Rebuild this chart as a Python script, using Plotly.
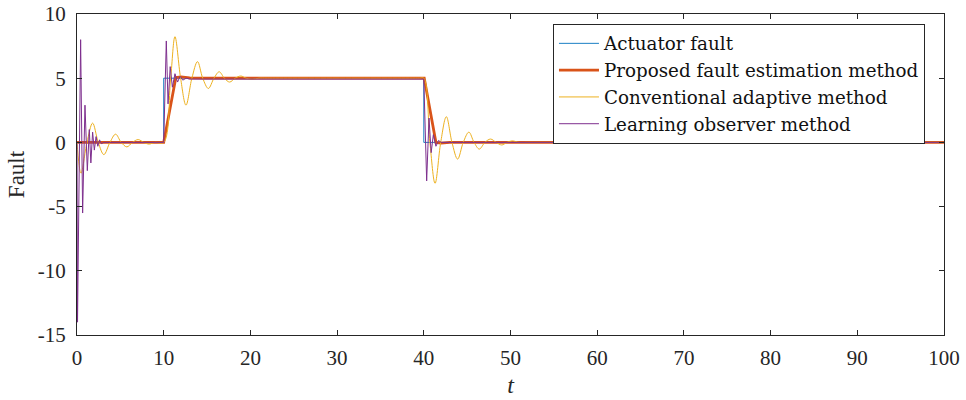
import plotly.graph_objects as go

# ---------------- data ----------------
actuator_t = [0, 10, 10, 40, 40, 100]
actuator_v = [0, 0, 5, 5, 0, 0]

proposed_t = [0, 10.0, 11.4, 12.0, 13.0, 15.0, 40.05, 41.4, 42.0, 43.0, 100]
proposed_v = [0, 0, 5.05, 5.1, 5.02, 5.0, 5.0, 0.0, -0.05, 0.0, 0]

conventional_t = [0, 0.46, 1.15, 1.8, 2.45, 3.1, 3.8, 4.45, 5.1, 5.75, 6.4, 7.05, 7.7, 8.3,
                  9.0, 10.0, 10.8, 11.3, 11.95, 12.57, 13.25, 13.9, 14.5, 15.15, 15.8, 16.4,
                  17.0, 17.6, 18.25, 18.9, 19.5, 20.2, 21.0, 22.0, 39.5, 40.0, 40.7, 41.3,
                  41.95, 42.6, 43.25, 43.9, 44.55, 45.2, 45.8, 46.4, 47.05, 47.7, 48.35,
                  49.0, 49.6, 50.2, 51.0, 52.0, 100]
conventional_v = [0, -2.4, 0, 1.5, 0, -0.95, 0, 0.64, 0, -0.35, 0, 0.22, 0, -0.13,
                  0, 0, 5, 8.23, 5, 2.9, 5, 6.29, 5, 4.2, 5, 5.5,
                  5, 4.7, 5, 5.17, 5, 4.92, 5, 5, 5, 5, 0, -3.19,
                  0, 2.0, 0, -1.3, 0, 0.8, 0, -0.52, 0, 0.26, 0,
                  -0.2, 0, 0.12, 0, 0, 0]

learning_t = [0, 0.06, 0.42, 0.65, 0.92, 1.19, 1.42, 1.6, 1.8, 2.0, 2.2, 2.4, 2.6, 2.8, 3.1,
              10.0, 10.3, 10.5, 10.75, 11.0, 11.3, 11.6, 11.9, 12.2, 12.6, 13.0,
              40.0, 40.33, 40.6, 40.85, 41.1, 41.4, 41.7, 42.0, 100]
learning_v = [0, -14.0, 8.0, -5.5, 2.9, -2.2, 1.0, -1.6, 0.8, -0.6, 0.45, -0.3, 0.2, -0.1, 0,
              0, 7.9, 3.0, 5.9, 4.3, 5.35, 4.7, 5.15, 4.85, 5.0, 4.93,
              4.93, -3.0, 1.9, -0.8, 0.6, -0.3, 0.15, 0, 0]

series_names = ["Actuator fault", "Proposed fault estimation method",
                "Conventional adaptive method", "Learning observer method"]

x_ticks = [0, 10, 20, 30, 40, 50, 60, 70, 80, 90, 100]
y_ticks = [-15, -10, -5, 0, 5, 10]
y_tick_labels = ["-15", "-10", "-5", "0", "5", "10"]

# ---------------- figure ----------------
SERIF = "Liberation Serif, Times New Roman, serif"
LEGEND_SERIF = "DejaVu Serif, serif"
AX = "#262626"

fig = go.Figure()
fig.add_trace(go.Scatter(x=actuator_t, y=actuator_v, mode="lines", name=series_names[0],
                         line=dict(color="#0072BD", width=0.9)))
fig.add_trace(go.Scatter(x=proposed_t, y=proposed_v, mode="lines", name=series_names[1],
                         line=dict(color="#D95319", width=2.8)))
fig.add_trace(go.Scatter(x=conventional_t, y=conventional_v, mode="lines", name=series_names[2],
                         line=dict(color="#EDB120", width=1, shape="spline", smoothing=1)))
fig.add_trace(go.Scatter(x=learning_t, y=learning_v, mode="lines", name=series_names[3],
                         line=dict(color="#7E2F8E", width=1)))

axis_common = dict(showgrid=False, zeroline=False, showline=True, linecolor=AX, linewidth=1,
                   mirror="ticks", ticks="inside", ticklen=5, tickcolor=AX, tickwidth=1,
                   automargin=False,
                   tickfont=dict(family=SERIF, size=21, color=AX))

fig.update_xaxes(range=[0, 100], tickvals=x_ticks, ticklabelstandoff=4,
                 title=dict(text="<i>t</i>", font=dict(family=SERIF, size=24, color=AX), standoff=6),
                 **axis_common)
fig.update_yaxes(range=[-15, 10], tickvals=y_ticks, ticktext=y_tick_labels, ticklabelstandoff=6,
                 title=dict(text="Fault", font=dict(family=SERIF, size=23, color=AX), standoff=6),
                 **axis_common)

fig.update_layout(
    width=966, height=400,
    margin=dict(l=77, r=22, t=14, b=65, autoexpand=False),
    paper_bgcolor="white", plot_bgcolor="white",
    showlegend=True,
    legend=dict(x=0.549, y=0.969, xanchor="left", yanchor="top",
                bgcolor="white", bordercolor=AX, borderwidth=1,
                font=dict(family=LEGEND_SERIF, size=18.3, color="#111111"),
                tracegroupgap=0, itemwidth=40),
)

fig.write_html("out.html")
